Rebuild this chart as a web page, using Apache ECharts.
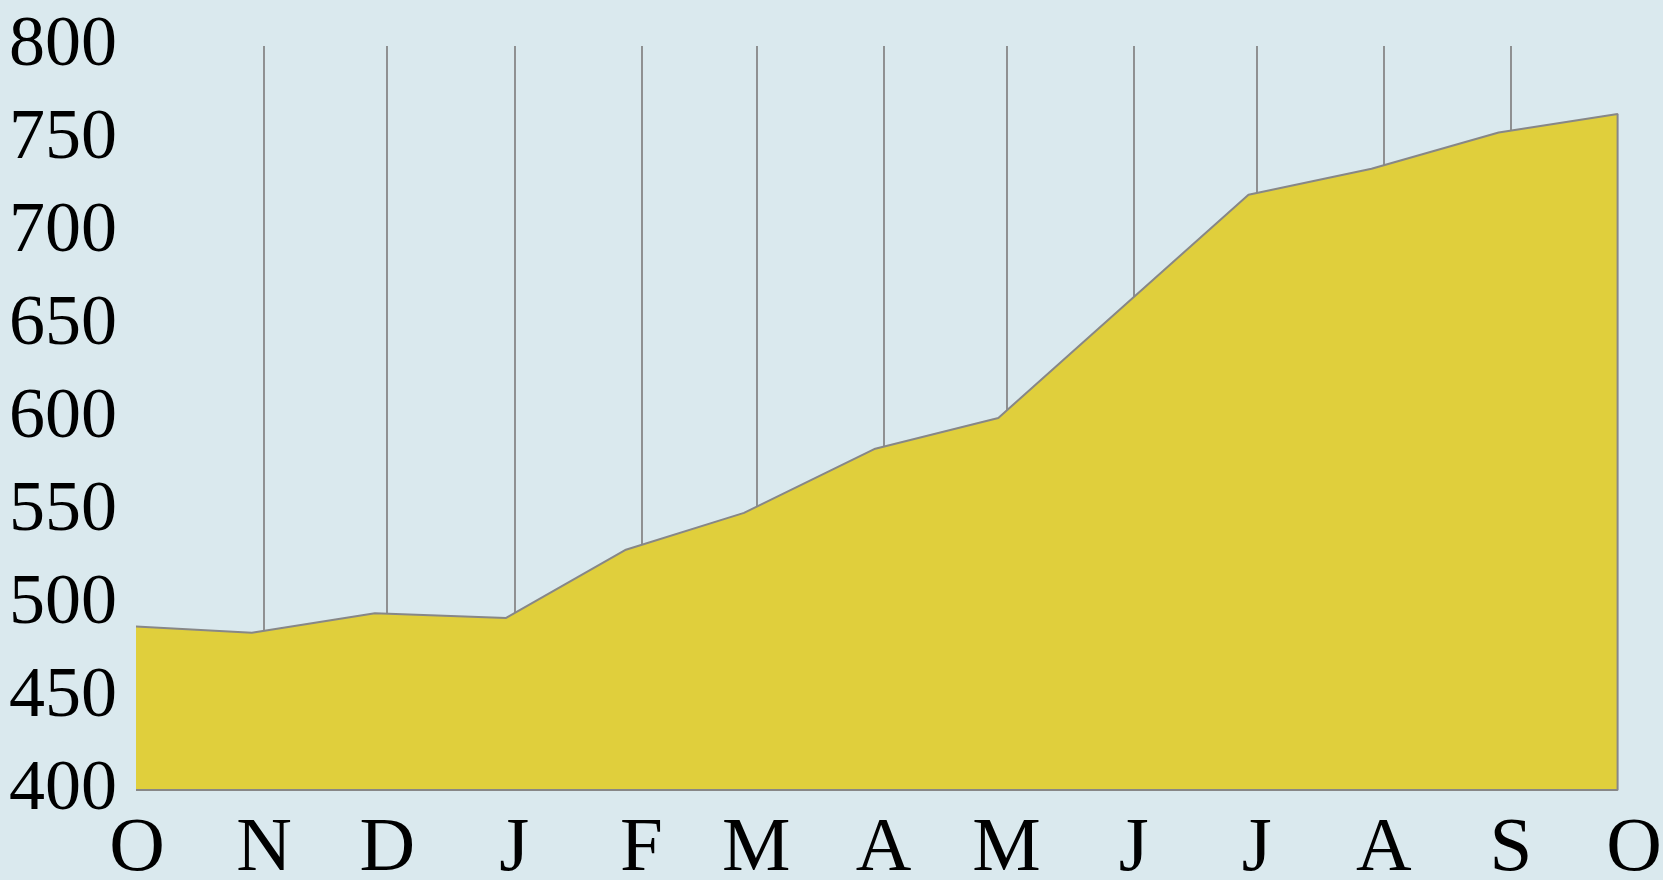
<!DOCTYPE html>
<html>
<head>
<meta charset="utf-8">
<title>Area chart</title>
<script src="https://cdn.jsdelivr.net/npm/echarts@6/dist/echarts.min.js"></script>
<style>
  html, body { margin: 0; padding: 0; background: #dae9ee; }
  #chart { width: 1663px; height: 880px; }
</style>
</head>
<body>
<div id="chart"></div>
<script>
(function (window, echarts) {

    // one value per month
    var dates = ['2022-09-30', '2022-10-29', '2022-11-28', '2022-12-30', '2023-01-28', '2023-02-26',
        '2023-03-30', '2023-04-29', '2023-05-30', '2023-06-29', '2023-07-29', '2023-08-29', '2023-09-27'];
    var values = [488, 484.5, 495, 492.5, 529, 549, 583.5, 600, 661, 720, 734, 753.5, 763.5];
    // month starts that get a vertical rule
    var ruleMonths = ['2022-11-01', '2022-12-01', '2023-01-01', '2023-02-01', '2023-03-01', '2023-04-01',
        '2023-05-01', '2023-06-01', '2023-07-01', '2023-08-01', '2023-09-01'];
    var monthLetters = ['J', 'F', 'M', 'A', 'M', 'J', 'J', 'A', 'S', 'O', 'N', 'D'];
    var axisStart = '2022-10-01';
    var axisEnd = '2023-10-01';
    var yMin = 400;
    var yMax = 800;
    var yStep = 50;

    // close the shape: down to the baseline at both ends and back along it
    var first = dates[0], last = dates[dates.length - 1];
    var seriesData = [[first, yMin]];
    for (var i = 0; i < dates.length; i++) {
        seriesData.push([dates[i], values[i]]);
    }
    seriesData.push([last, yMin]);
    seriesData.push([first, yMin]);

    var DAY = 24 * 3600 * 1000;
    var font = '"Liberation Serif", "Times New Roman", serif';
    var gray = '#878787';

    var chart = echarts.init(document.getElementById('chart'), null, { renderer: 'canvas' });
    var option = {
        backgroundColor: '#dae9ee',
        animation: false,
        grid: {
            left: 137,
            right: 29,
            top: 46,
            bottom: 90,
            containLabel: false,
            outerBoundsMode: 'none'
        },
        xAxis: {
            type: 'time',
            min: axisStart,
            max: axisEnd,
            splitNumber: 12,
            minInterval: 28 * DAY,
            maxInterval: 31 * DAY,
            axisLine: { show: false },
            axisTick: { show: false },
            splitLine: { show: false },
            axisLabel: {
                color: '#000',
                fontFamily: font,
                fontSize: 77,
                margin: 21,
                showMinLabel: true,
                showMaxLabel: true,
                formatter: function (val) {
                    return monthLetters[new Date(val).getMonth()];
                }
            }
        },
        yAxis: {
            type: 'value',
            min: yMin,
            max: yMax,
            interval: yStep,
            axisLine: { show: false },
            axisTick: { show: false },
            splitLine: { show: false },
            axisLabel: {
                color: '#000',
                fontFamily: font,
                fontSize: 72,
                margin: 20
            }
        },
        series: [{
            // vertical rules, kept behind the area
            type: 'line',
            data: [],
            z: 1,
            markLine: {
                silent: true,
                z: 1,
                symbol: 'none',
                label: { show: false },
                lineStyle: { color: gray, width: 1.8, type: 'solid' },
                data: ruleMonths.map(function (d) { return { xAxis: d }; })
            }
        }, {
            type: 'line',
            data: seriesData,
            clip: false,
            symbol: 'none',
            smooth: false,
            z: 3,
            lineStyle: { color: gray, width: 2 },
            areaStyle: { color: '#e0cf3c', opacity: 1, origin: 'start' }
        }]
    };

    chart.setOption(option);

})(window, echarts);
</script>
</body>
</html>
